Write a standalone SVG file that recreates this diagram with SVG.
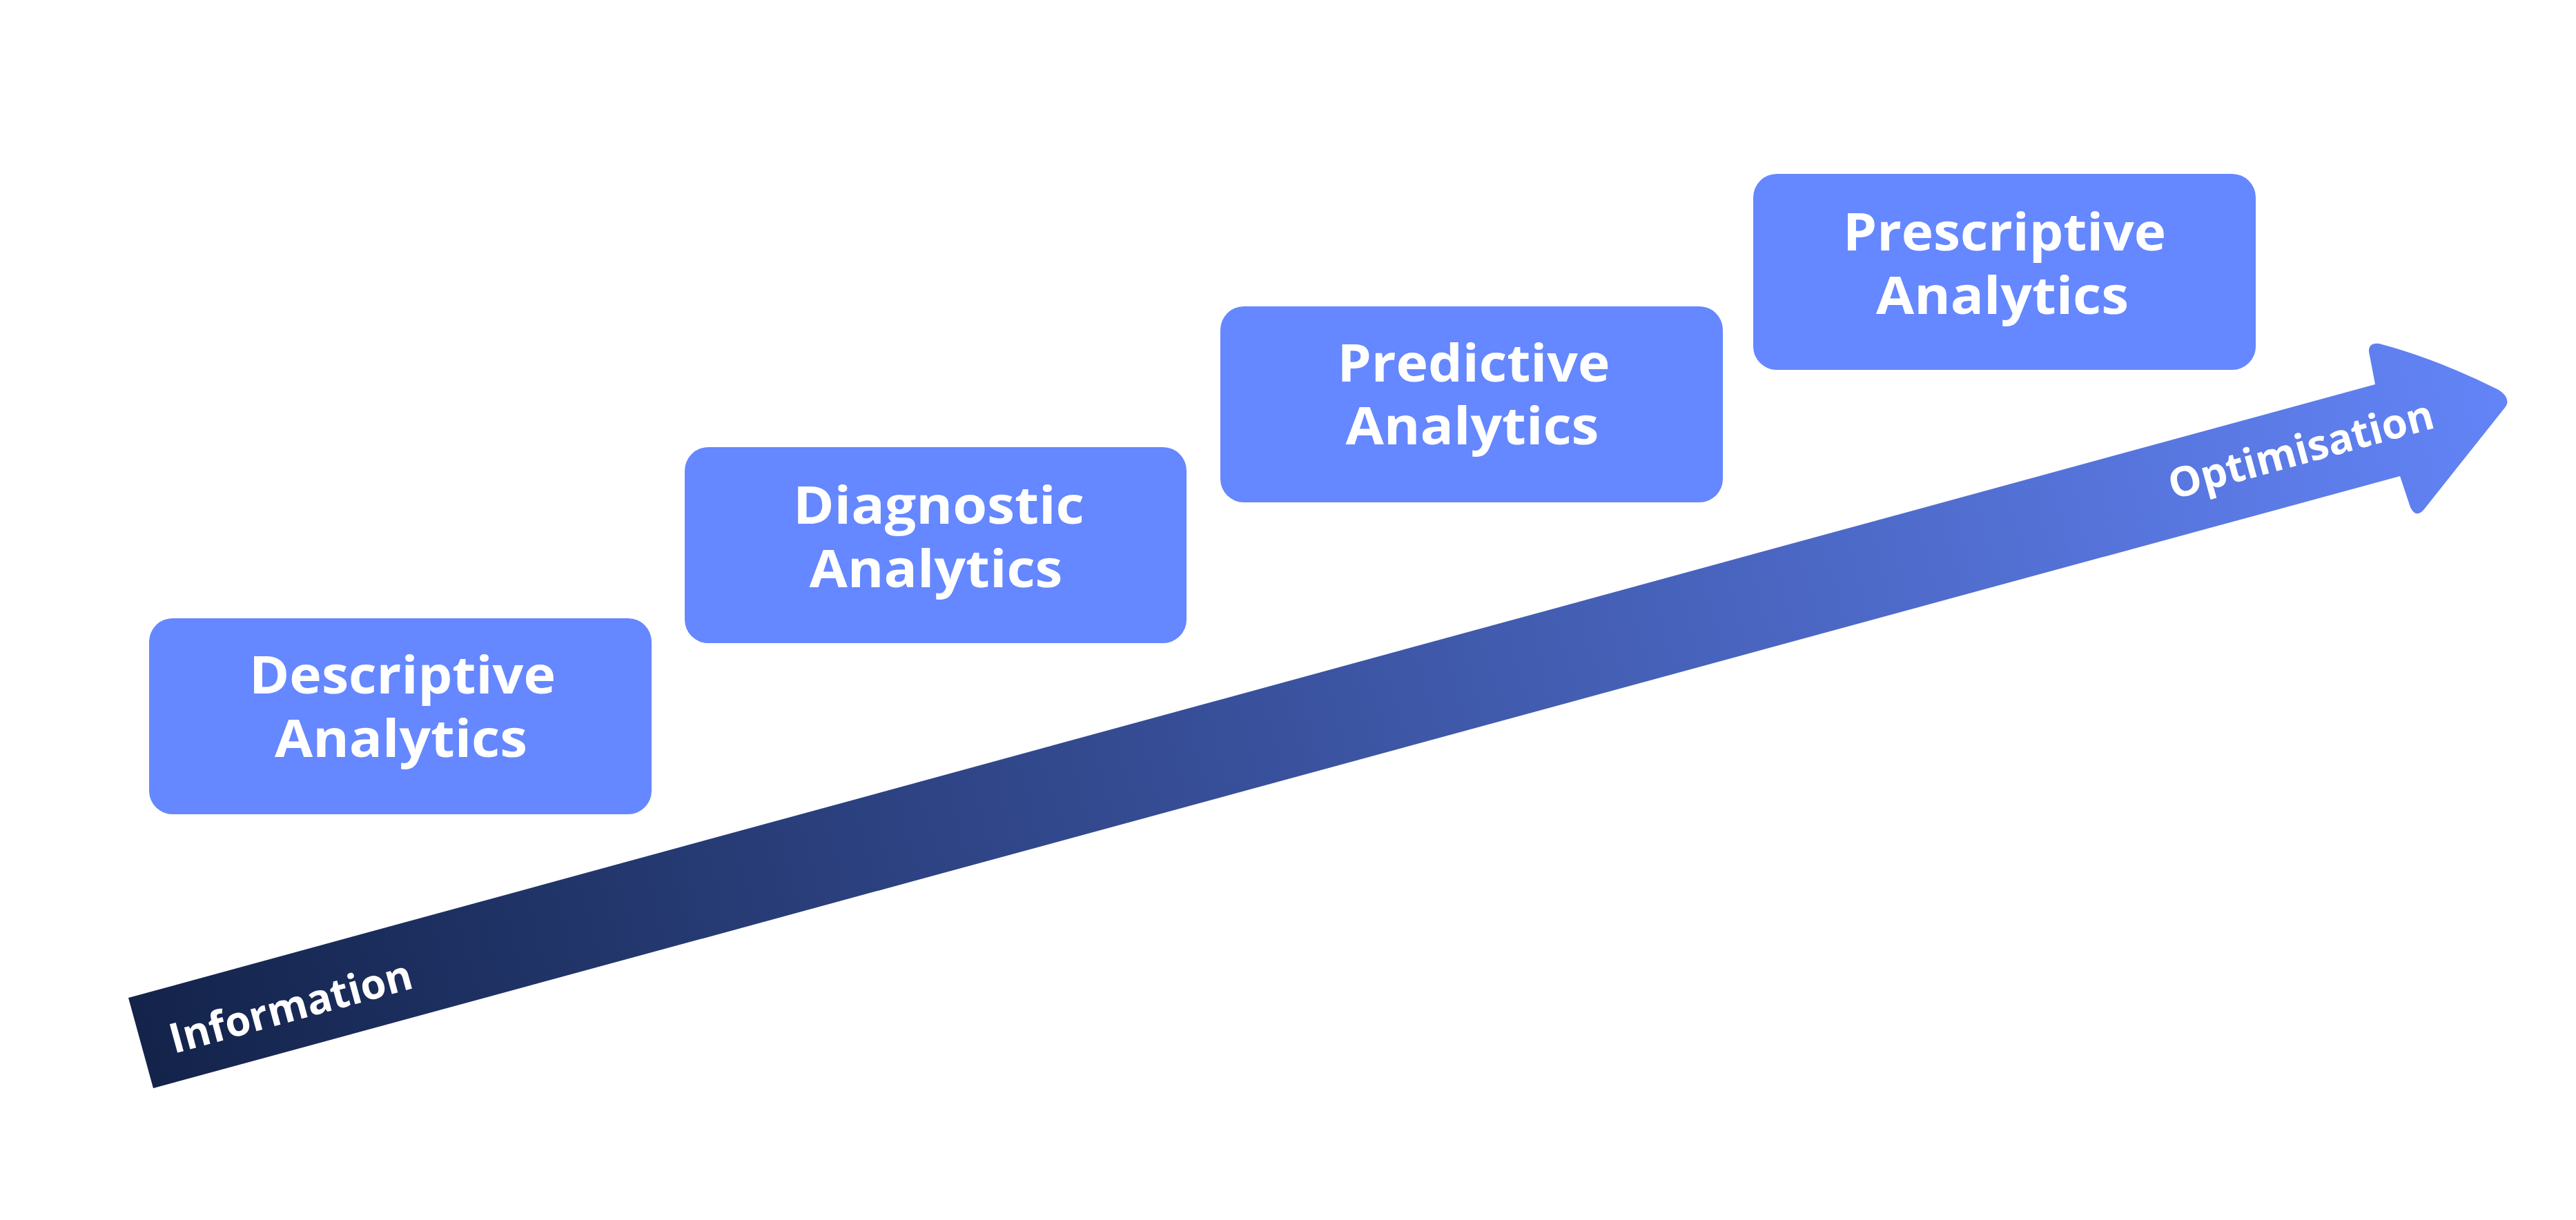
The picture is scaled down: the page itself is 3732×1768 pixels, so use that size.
<svg xmlns="http://www.w3.org/2000/svg" width="3732" height="1768" viewBox="0 0 3732 1768">
  <style>
    .box { fill: #6587FF; }
    .lbl { fill: #FFFFFF; font-family: "Open Sans", "Liberation Sans", sans-serif; font-weight: 700; font-size: 76px; text-anchor: middle; }
    .albl { fill: #FFFFFF; font-family: "Open Sans", "Liberation Sans", sans-serif; font-weight: 700; font-size: 60px; }
  </style>
  <defs>
    <linearGradient id="arrowGrad" gradientUnits="userSpaceOnUse" x1="200" y1="1510" x2="3630" y2="580">
      <stop offset="0" stop-color="#13234A"/>
      <stop offset="1" stop-color="#6384F7"/>
    </linearGradient>
  </defs>
  <rect width="3732" height="1768" fill="#FFFFFF"/>

  <g id="connectors">
    <path id="growth-arrow" fill="url(#arrowGrad)" d="M186,1446 L3441,557 Q3436,530 3432,510 Q3431,496 3447,498 Q3530,520 3620,565 Q3640,578 3628,592 L3512,738 Q3500,752 3492,735 L3477,690 L222,1577 Z"/>
    <text class="albl" transform="translate(252,1527) rotate(-15.3)" x="0" y="0" textLength="362" lengthAdjust="spacingAndGlyphs">Information</text>
    <text class="albl" transform="translate(3148,724) rotate(-15.3)" x="0" y="0" textLength="396" lengthAdjust="spacingAndGlyphs">Optimisation</text>
  </g>

  <g id="descriptive">
    <rect class="box" x="216" y="896" width="728" height="284" rx="34" ry="34"/>
    <text class="lbl" x="583" y="1005" textLength="444" lengthAdjust="spacingAndGlyphs">Descriptive</text>
    <text class="lbl" x="581" y="1097" textLength="366" lengthAdjust="spacingAndGlyphs">Analytics</text>
  </g>

  <g id="diagnostic">
    <rect class="box" x="992" y="648" width="727" height="284" rx="34" ry="34"/>
    <text class="lbl" x="1360" y="759" textLength="422" lengthAdjust="spacingAndGlyphs">Diagnostic</text>
    <text class="lbl" x="1356" y="851" textLength="367" lengthAdjust="spacingAndGlyphs">Analytics</text>
  </g>

  <g id="predictive">
    <rect class="box" x="1768" y="444" width="728" height="284" rx="34" ry="34"/>
    <text class="lbl" x="2135" y="553" textLength="395" lengthAdjust="spacingAndGlyphs">Predictive</text>
    <text class="lbl" x="2133" y="644" textLength="367" lengthAdjust="spacingAndGlyphs">Analytics</text>
  </g>

  <g id="prescriptive">
    <rect class="box" x="2540" y="252" width="728" height="284" rx="34" ry="34"/>
    <text class="lbl" x="2904" y="363" textLength="468" lengthAdjust="spacingAndGlyphs">Prescriptive</text>
    <text class="lbl" x="2901" y="455" textLength="366" lengthAdjust="spacingAndGlyphs">Analytics</text>
  </g>
</svg>
